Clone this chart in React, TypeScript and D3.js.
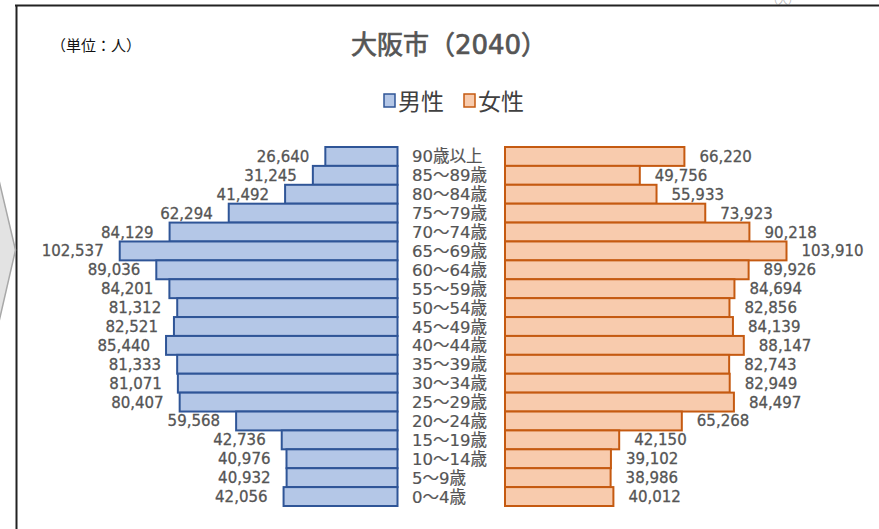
import React from "react";
import * as d3 from "d3";

const ageGroups = [
  "90歳以上", "85～89歳", "80～84歳", "75～79歳", "70～74歳", "65～69歳", "60～64歳",
  "55～59歳", "50～54歳", "45～49歳", "40～44歳", "35～39歳", "30～34歳", "25～29歳",
  "20～24歳", "15～19歳", "10～14歳", "5～9歳", "0～4歳",
];
const maleValues = [
  26640, 31245, 41492, 62294, 84129, 102537, 89036, 84201, 81312, 82521, 85440, 81333,
  81071, 80407, 59568, 42736, 40976, 40932, 42056,
];
const femaleValues = [
  66220, 49756, 55933, 73923, 90218, 103910, 89926, 84694, 82856, 84139, 88147, 82743,
  82949, 84497, 65268, 42150, 39102, 38986, 40012,
];
const seriesNames = ["男性", "女性"];

const W = 879;
const H = 529;
const maleRight = 397.5;
const femaleLeft = 505;
const textColor = "#555555";
const cjk = "'Noto Sans CJK JP', sans-serif";
const numFont = "'DejaVu Sans', 'Noto Sans CJK JP', sans-serif";

export default function App() {
  const y = d3.scaleBand<string>().domain(ageGroups).range([147, 506]).padding(0);
  const w = d3.scaleLinear().domain([0, 110000]).range([0, 298]);
  const fmt = d3.format(",");
  const bh = y.bandwidth();

  return (
    <svg
      width={W}
      height={H}
      style={{ position: "absolute", left: 0, top: 0, background: "#fff" }}
    >
      {/* frame */}
      <text x={768} y={4} fontSize={10} fill="#b8b8b8" fontFamily={cjk}>（人）</text>
      <line x1={15} x2={W} y1={5.5} y2={5.5} stroke="#222" strokeWidth={2} />
      <line x1={16.5} x2={16.5} y1={5} y2={H} stroke="#222" strokeWidth={2} />
      <path
        d="M -2 176 L 15.5 250 L -2 326 Z"
        fill="#e3e3e3"
        stroke="#a8a8a8"
        strokeWidth={1.5}
      />

      {/* titles */}
      <text x={96} y={51} fontSize={15} fill="#111" fontFamily={cjk} textAnchor="middle">
        （単位：人）
      </text>
      <text
        x={449}
        y={54}
        fontSize={26}
        fill={textColor}
        fontFamily={numFont}
        stroke={textColor}
        strokeWidth={0.7}
        textAnchor="middle"
      >
        大阪市（2040）
      </text>

      {/* legend */}
      <rect x={384} y={94} width={11} height={13} fill="#b4c7e7" stroke="#2f5597" strokeWidth={1.5} />
      <text x={398} y={110} fontSize={23} fill="#404040" fontFamily={cjk}>{seriesNames[0]}</text>
      <rect x={464} y={94} width={11} height={13} fill="#f8cbad" stroke="#c55a11" strokeWidth={1.5} />
      <text x={478} y={110} fontSize={23} fill="#404040" fontFamily={cjk}>{seriesNames[1]}</text>

      {/* bars */}
      {ageGroups.map((g, i) => {
        const yy = y(g)!;
        const mw = w(maleValues[i]);
        const fw = w(femaleValues[i]);
        const cy = yy + bh / 2;
        return (
          <g key={g}>
            <rect
              x={maleRight - mw}
              y={yy}
              width={mw}
              height={bh}
              fill="#b4c7e7"
              stroke="#2f5597"
              strokeWidth={2}
            />
            <rect
              x={femaleLeft}
              y={yy}
              width={fw}
              height={bh}
              fill="#f8cbad"
              stroke="#c55a11"
              strokeWidth={2}
            />
            <text
              x={maleRight - mw - 16}
              y={cy + 5.5}
              fontSize={15}
              fill={textColor}
              fontFamily={numFont}
              textAnchor="end"
              stroke={textColor}
              strokeWidth={0.3}
            >
              {fmt(maleValues[i])}
            </text>
            <text
              x={femaleLeft + fw + 15}
              y={cy + 5.5}
              fontSize={15}
              fill={textColor}
              fontFamily={numFont}
              stroke={textColor}
              strokeWidth={0.3}
            >
              {fmt(femaleValues[i])}
            </text>
            <text
              x={412}
              y={cy + 6}
              fontSize={16.5}
              fill={textColor}
              fontFamily={numFont}
              stroke={textColor}
              strokeWidth={0.2}
            >
              {g}
            </text>
          </g>
        );
      })}
    </svg>
  );
}
